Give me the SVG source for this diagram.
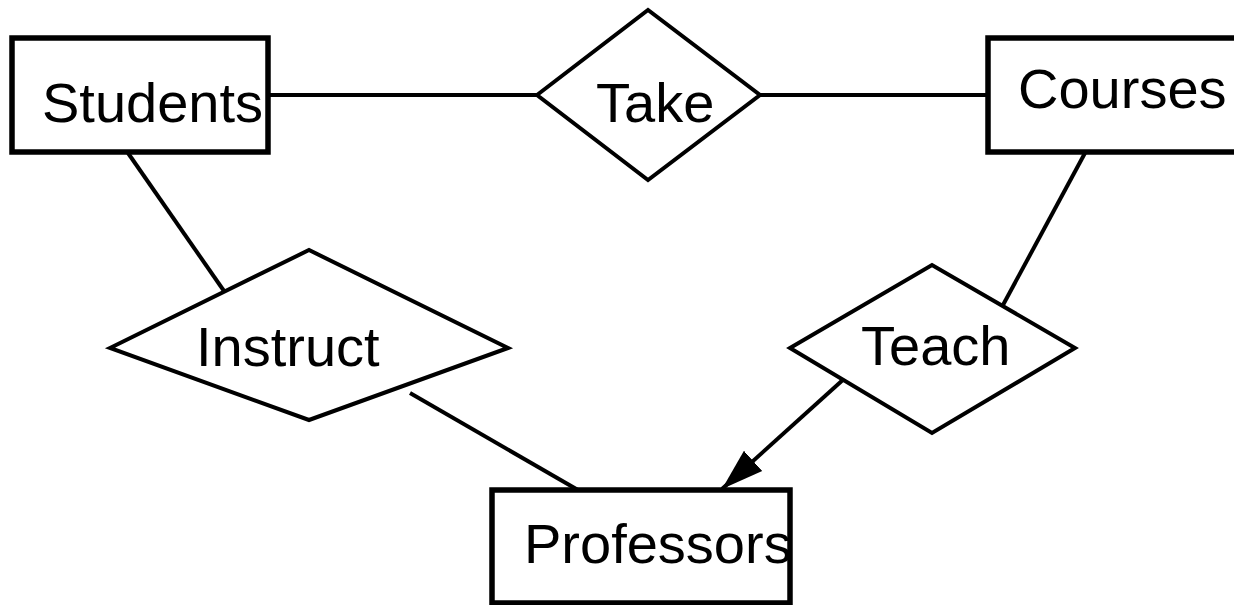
<svg xmlns="http://www.w3.org/2000/svg" width="1234" height="605" viewBox="0 0 1234 605">
<style>
.ent{fill:#fff;stroke:#000;stroke-width:5.5}
.rel{fill:#fff;stroke:#000;stroke-width:4;stroke-linejoin:miter}
.lbl{font-family:"Liberation Sans",Arial,sans-serif;font-size:56px;fill:#000}
.con{stroke:#000;stroke-width:4;fill:none}
</style>
<defs>
<marker id="arr" markerUnits="userSpaceOnUse" markerWidth="44" markerHeight="30" refX="40" refY="13" orient="auto" viewBox="0 0 42 26">
<path d="M0,0 L40,13 L0,26 Z" fill="#000"/>
</marker>
</defs>
<rect width="1234" height="605" fill="#fff"/>
<g id="connectors">
<line class="con" x1="268" y1="95" x2="537" y2="95"/>
<line class="con" x1="760" y1="95" x2="988" y2="95"/>
<line class="con" x1="128" y1="153" x2="224" y2="291"/>
<line class="con" x1="1085" y1="153" x2="1003" y2="305"/>
<line class="con" x1="410" y1="393" x2="578" y2="490"/>
<line class="con" x1="845" y1="378" x2="722" y2="489" marker-end="url(#arr)"/>
</g>
<g id="students">
<rect class="ent" x="12" y="38" width="256" height="114"/>
<text class="lbl" x="42" y="122">Students</text>
</g>
<g id="take">
<polygon class="rel" points="537,95 648,10 760,95 648,180"/>
<text class="lbl" x="596" y="122">Take</text>
</g>
<g id="courses">
<rect class="ent" x="988" y="38" width="260" height="114"/>
<text class="lbl" x="1018" y="108">Courses</text>
</g>
<g id="instruct">
<polygon class="rel" points="110,348 309,250 508,348 309,420"/>
<text class="lbl" x="196" y="366">Instruct</text>
</g>
<g id="teach">
<polygon class="rel" points="790,348 932,265 1075,348 932,433"/>
<text class="lbl" x="861" y="365">Teach</text>
</g>
<g id="professors">
<rect class="ent" x="492" y="490" width="298" height="113"/>
<text class="lbl" x="524" y="563">Professors</text>
</g>
</svg>
